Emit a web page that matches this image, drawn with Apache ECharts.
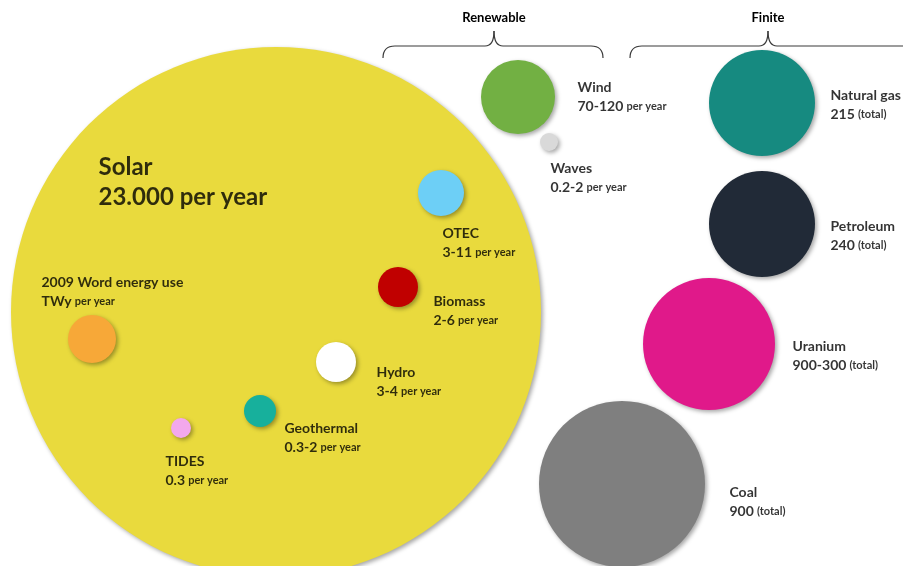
<!DOCTYPE html>
<html>
<head>
<meta charset="utf-8">
<script src="https://cdn.jsdelivr.net/npm/echarts@6/dist/echarts.min.js"></script>
<style>
  html, body { margin: 0; padding: 0; background: #fff; }
  #chart { width: 903px; height: 566px; }
</style>
</head>
<body>
<div id="chart"></div>
<script>
// energy sources (TW-years), bubble layout
var names = ['Solar', 'Wind', 'Waves', 'OTEC', 'Biomass', '2009 Word energy use', 'Hydro', 'Geothermal', 'TIDES',
             'Natural gas', 'Petroleum', 'Uranium', 'Coal'];
var amounts = ['23.000', '70-120', '0.2-2', '3-11', '2-6', 'TWy', '3-4', '0.3-2', '0.3',
               '215', '240', '900-300', '900'];
var units = ['per year', 'per year', 'per year', 'per year', 'per year', 'per year', 'per year', 'per year', 'per year',
             '(total)', '(total)', '(total)', '(total)'];
var bubbleX = [276, 518, 549, 441, 398, 92, 336, 260, 181, 762, 762, 709, 622];
var bubbleY = [312, 97, 142, 193, 287, 339, 362, 411, 428, 103, 224, 344, 484];
var bubbleSize = [530, 74, 18, 46, 40, 48, 40, 32, 20, 106, 106, 132, 166];
var colors = ['#E9DA3D', '#72B043', '#D9D9D9', '#6DCFF6', '#C00000', '#F7A838', '#FFFFFF', '#17B09C', '#F3A8EC',
              '#168A80', '#212A37', '#E0198A', '#7F7F7F'];
var labelX = [99, 578, 551, 443, 434, 42, 377, 285, 166, 831, 831, 793, 730];
var labelY = [153, 78, 159, 224, 292, 273, 363, 419, 452, 86, 217, 337, 483];

var groups = [
  { text: 'Renewable', from: 383, to: 603, mid: 494 },
  { text: 'Finite', from: 630, to: 920, mid: 768 }
];

var font = 'Lato, "Open Sans", sans-serif';

var bubbleData = [];
var labelData = [];
for (var i = 0; i < names.length; i++) {
  bubbleData.push({
    value: [bubbleX[i], bubbleY[i]],
    symbolSize: bubbleSize[i],
    itemStyle: { color: colors[i] }
  });
  var big = i === 0;
  labelData.push({
    value: [labelX[i], labelY[i]],
    label: {
      formatter: big
        ? '{bn|' + names[i] + '}\n{bn|' + amounts[i] + ' ' + units[i] + '}'
        : '{n|' + names[i] + '}\n{n|' + amounts[i] + '} {u|' + units[i] + '}'
    }
  });
}

// curly brace made of quadratic curves and straight lines
function brace(g) {
  var y0 = 58, yh = 46, yp = 31;
  var x1 = g.from, x2 = g.to, c = g.mid;
  var st = { stroke: '#3a3a3a', lineWidth: 1.2, fill: null };
  function curve(ax, ay, cx, cy, bx, by) {
    return { type: 'bezierCurve', silent: true, style: st,
      shape: { x1: ax, y1: ay, cpx1: cx, cpy1: cy, x2: bx, y2: by } };
  }
  function line(ax, ay, bx, by) {
    return { type: 'line', silent: true, style: st, shape: { x1: ax, y1: ay, x2: bx, y2: by } };
  }
  return [
    curve(x1, y0, x1, yh, x1 + 12, yh),
    line(x1 + 12, yh, c - 9, yh),
    curve(c - 9, yh, c, yh, c, yp),
    curve(c, yp, c, yh, c + 9, yh),
    line(c + 9, yh, x2 - 12, yh),
    curve(x2 - 12, yh, x2, yh, x2, y0)
  ];
}

var graphics = [];
groups.forEach(function (g) {
  graphics = graphics.concat(brace(g));
  graphics.push({
    type: 'text',
    x: g.mid, y: 18,
    style: { text: g.text, font: 'bold 13px ' + font, fill: '#000', align: 'center', verticalAlign: 'middle' },
    silent: true
  });
});

var myChart = echarts.init(document.getElementById('chart'));
var option = {
  backgroundColor: '#fff',
  animation: false,
  grid: { left: 0, right: 0, top: 0, bottom: 0 },
  xAxis: { type: 'value', min: 0, max: 903, show: false },
  yAxis: { type: 'value', min: 0, max: 566, inverse: true, show: false },
  graphic: graphics,
  series: [
    {
      type: 'scatter',
      symbol: 'circle',
      data: bubbleData,
      silent: true,
      itemStyle: {
        opacity: 1,
        shadowColor: 'rgba(0,0,0,0.35)',
        shadowBlur: 4,
        shadowOffsetX: 2,
        shadowOffsetY: 2
      }
    },
    {
      type: 'scatter',
      symbolSize: 1,
      itemStyle: { color: 'rgba(0,0,0,0)' },
      data: labelData,
      silent: true,
      z: 5,
      label: {
        show: true,
        position: [0, 0],
        align: 'left',
        verticalAlign: 'top',
        color: '#000',
        fontFamily: font,
        rich: {
          n: { fontSize: 14, fontWeight: 'bold', lineHeight: 19, fontFamily: font, color: '#000' },
          u: { fontSize: 11, fontWeight: 'bold', lineHeight: 19, fontFamily: font, color: '#000' },
          bn: { fontSize: 24, fontWeight: 'bold', lineHeight: 30, fontFamily: font, color: '#000' }
        }
      }
    }
  ]
};
myChart.setOption(option);
</script>
</body>
</html>
